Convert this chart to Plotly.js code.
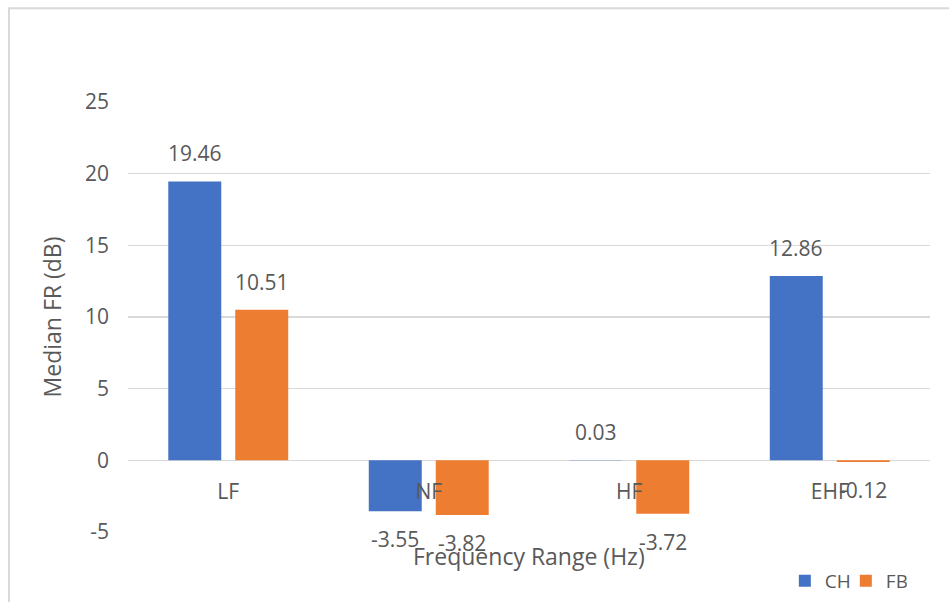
<!DOCTYPE html>
<html>
<head>
<meta charset="utf-8">
<script src="https://cdn.plot.ly/plotly-3.0.1.min.js"></script>
<style>
  html, body { margin: 0; padding: 0; background: #fff; }
  #chart { width: 949px; height: 602px; }
</style>
</head>
<body>
<div id="chart"></div>
<script>
// Median frequency response per frequency range
const categories = ['LF', 'NF', 'HF', 'EHF'];
const seriesNames = ['CH', 'FB'];
const chValues = [19.46, -3.55, 0.03, 12.86];
const fbValues = [10.51, -3.82, -3.72, -0.12];
const yTicks = [-5, 0, 5, 10, 15, 20, 25];

const FONT = '"Open Sans", "Noto Sans", sans-serif';
const GREY = '#595959';
const GRID = '#d9d9d9';
const colors = ['#4472C4', '#ED7D31'];
const allValues = [chValues, fbValues];

const traces = allValues.map((vals, i) => ({
  type: 'bar',
  name: seriesNames[i],
  x: categories,
  y: vals,
  marker: { color: colors[i] }
}));

// value labels sit just beyond the end of each bar
const groupOffset = [-33.5, 33.5];
const labelAnnotations = [];
allValues.forEach((vals, i) => {
  vals.forEach((v, j) => {
    labelAnnotations.push({
      x: categories[j], y: v, xref: 'x', yref: 'y',
      text: v.toFixed(2),
      showarrow: false,
      xshift: groupOffset[i],
      yanchor: v >= 0 ? 'bottom' : 'top',
      yshift: v >= 0 ? 12 : -12,
      font: { family: FONT, size: 21, color: GREY }
    });
  });
});

const layout = {
  width: 949,
  height: 602,
  margin: { l: 128, r: 19, t: 102, b: 70, autoexpand: false },
  paper_bgcolor: '#ffffff',
  plot_bgcolor: '#ffffff',
  font: { family: FONT, color: GREY },
  barmode: 'group',
  bargap: 0.332,
  bargroupgap: 0.209,
  showlegend: true,
  legend: {
    orientation: 'h',
    x: 0.819, xanchor: 'left',
    y: -0.114, yanchor: 'middle',
    entrywidth: 16,
    font: { family: FONT, size: 19, color: GREY },
    bgcolor: 'rgba(0,0,0,0)'
  },
  xaxis: {
    type: 'category',
    anchor: 'free',
    position: 5 / 30,
    showline: false,
    showgrid: false,
    zeroline: false,
    ticks: '',
    ticklabelstandoff: 17,
    tickfont: { family: FONT, size: 21, color: GREY },
    automargin: false,
    fixedrange: true
  },
  yaxis: {
    range: [-5, 25],
    tickvals: yTicks,
    ticktext: yTicks.map(String),
    showgrid: true,
    gridcolor: GRID,
    gridwidth: 1.5,
    zeroline: false,
    showline: false,
    ticks: '',
    ticklabelstandoff: 18,
    tickfont: { family: FONT, size: 21, color: GREY },
    title: {
      text: 'Median FR (dB)',
      font: { family: FONT, size: 23, color: GREY },
      standoff: 16
    },
    automargin: false,
    fixedrange: true
  },
  annotations: labelAnnotations.concat([{
    text: 'Frequency Range (Hz)',
    xref: 'paper', yref: 'paper',
    x: 0.5, y: -0.056,
    xanchor: 'center', yanchor: 'middle',
    showarrow: false,
    font: { family: FONT, size: 23, color: GREY }
  }]),
  shapes: [{
    type: 'rect',
    xref: 'paper', yref: 'paper',
    x0: -0.1484, x1: 1.04,
    y0: -0.21, y1: 1.2178,
    line: { color: GRID, width: 2 },
    fillcolor: 'rgba(0,0,0,0)',
    layer: 'below'
  }]
};

Plotly.newPlot('chart', traces, layout, { staticPlot: true, displayModeBar: false });
</script>
</body>
</html>
